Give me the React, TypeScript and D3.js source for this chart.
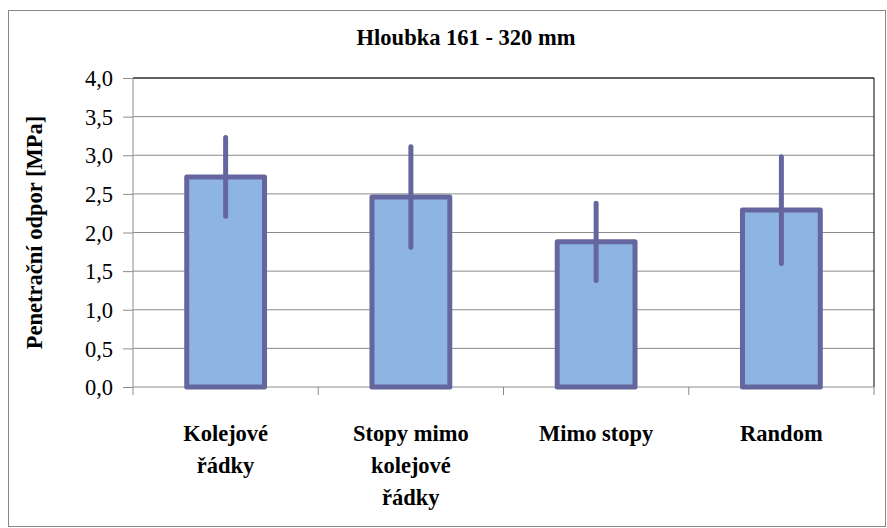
import React, { useEffect, useRef } from "react";
import * as d3 from "d3";

const categories = [["Kolejové", "řádky"], ["Stopy mimo", "kolejové", "řádky"], ["Mimo stopy"], ["Random"]];
const means = [2.72, 2.46, 1.88, 2.29];
const errors = [0.51, 0.65, 0.5, 0.69];
const yTicks = [0, 0.5, 1, 1.5, 2, 2.5, 3, 3.5, 4];

const W = 887;
const H = 528;
const plot = { left: 133, right: 874, top: 78, bottom: 387 };
const fillColor = "#8EB4E3";
const strokeColor = "#65669E";
const gridColor = "#8c8c8c";
const serif = "Liberation Serif";

export default function App() {
  const ref = useRef<SVGSVGElement>(null);

  useEffect(() => {
    const svg = d3.select(ref.current);
    svg.selectAll("*").remove();

    const x = d3
      .scaleBand<number>()
      .domain(categories.map((_, i) => i))
      .range([plot.left, plot.right])
      .paddingInner(0.58)
      .paddingOuter(0.29);
    const y = d3.scaleLinear().domain([0, 4]).range([plot.bottom, plot.top]);
    const fmt = (v: number) => v.toFixed(1).replace(".", ",");

    svg.append("rect").attr("width", W).attr("height", H).attr("fill", "white");
    svg
      .append("rect")
      .attr("x", 8.5)
      .attr("y", 10.5)
      .attr("width", 877)
      .attr("height", 516)
      .attr("fill", "white")
      .attr("stroke", "#888");

    svg
      .append("text")
      .attr("x", 466)
      .attr("y", 45)
      .attr("text-anchor", "middle")
      .attr("font-family", serif)
      .attr("font-size", 22.5)
      .attr("font-weight", "bold")
      .text("Hloubka 161 - 320 mm");

    // mřížka
    svg
      .append("g")
      .selectAll("line")
      .data(yTicks.filter((t) => t > 0))
      .join("line")
      .attr("x1", plot.left)
      .attr("x2", plot.right)
      .attr("y1", (d) => y(d))
      .attr("y2", (d) => y(d))
      .attr("stroke", gridColor);

    // osa y
    const yAxis = d3
      .axisLeft(y)
      .tickValues(yTicks)
      .tickSize(10)
      .tickPadding(10)
      .tickFormat((d) => fmt(+d));
    const gy = svg.append("g").attr("transform", `translate(${plot.left},0)`).call(yAxis);
    gy.select(".domain").remove();
    gy.selectAll("line").attr("stroke", gridColor);
    gy.selectAll("text")
      .attr("font-family", serif)
      .attr("font-size", 22.5)
      .attr("fill", "#000")
      .attr("dy", "0.34em");

    svg
      .append("line")
      .attr("x1", plot.left)
      .attr("x2", plot.right)
      .attr("y1", plot.top)
      .attr("y2", plot.top)
      .attr("stroke", "#000");
    svg
      .append("line")
      .attr("x1", plot.right)
      .attr("x2", plot.right)
      .attr("y1", plot.top)
      .attr("y2", plot.bottom)
      .attr("stroke", "#000");
    svg
      .append("line")
      .attr("x1", plot.left)
      .attr("x2", plot.left)
      .attr("y1", plot.top)
      .attr("y2", plot.bottom + 8)
      .attr("stroke", gridColor);
    svg
      .append("line")
      .attr("x1", plot.left)
      .attr("x2", plot.right)
      .attr("y1", plot.bottom)
      .attr("y2", plot.bottom)
      .attr("stroke", gridColor);

    const step = x.step();
    svg
      .append("g")
      .selectAll("line")
      .data(categories.map((_, i) => i))
      .join("line")
      .attr("x1", (i) => plot.left + step * (i + 1) - (x.step() * 0.29 * 2 - x.step() * 0.58) / 2)
      .attr("x2", (i) => plot.left + step * (i + 1) - (x.step() * 0.29 * 2 - x.step() * 0.58) / 2)
      .attr("y1", plot.bottom)
      .attr("y2", plot.bottom + 8)
      .attr("stroke", gridColor);

    // sloupce
    const bars = svg.append("g");
    bars
      .selectAll("rect")
      .data(means)
      .join("rect")
      .attr("x", (_, i) => x(i) as number)
      .attr("y", (d) => y(d))
      .attr("width", x.bandwidth())
      .attr("height", (d) => plot.bottom - y(d))
      .attr("fill", fillColor)
      .attr("stroke", strokeColor)
      .attr("stroke-width", 5)
      .attr("stroke-linejoin", "round");

    bars
      .selectAll("line")
      .data(means)
      .join("line")
      .attr("x1", (_, i) => (x(i) as number) + x.bandwidth() / 2)
      .attr("x2", (_, i) => (x(i) as number) + x.bandwidth() / 2)
      .attr("y1", (d, i) => y(d + errors[i]))
      .attr("y2", (d, i) => y(d - errors[i]))
      .attr("stroke", strokeColor)
      .attr("stroke-width", 5)
      .attr("stroke-linecap", "round");

    // popisky kategorií
    const labels = svg
      .append("g")
      .selectAll("text")
      .data(categories)
      .join("text")
      .attr("text-anchor", "middle")
      .attr("font-family", serif)
      .attr("font-size", 22.5)
      .attr("font-weight", "bold");
    labels
      .selectAll("tspan")
      .data((d, i) => d.map((l) => ({ l, i })))
      .join("tspan")
      .attr("x", (d) => (x(d.i) as number) + x.bandwidth() / 2)
      .attr("y", (_, j) => 441 + j * 32)
      .text((d) => d.l);

    svg
      .append("text")
      .attr("transform", `translate(42, ${(plot.top + plot.bottom) / 2}) rotate(-90)`)
      .attr("text-anchor", "middle")
      .attr("font-family", serif)
      .attr("font-size", 22.5)
      .attr("font-weight", "bold")
      .text("Penetrační odpor [MPa]");
  }, []);

  return <svg ref={ref} width={W} height={H} style={{ position: "absolute", left: 0, top: 0 }} />;
}
